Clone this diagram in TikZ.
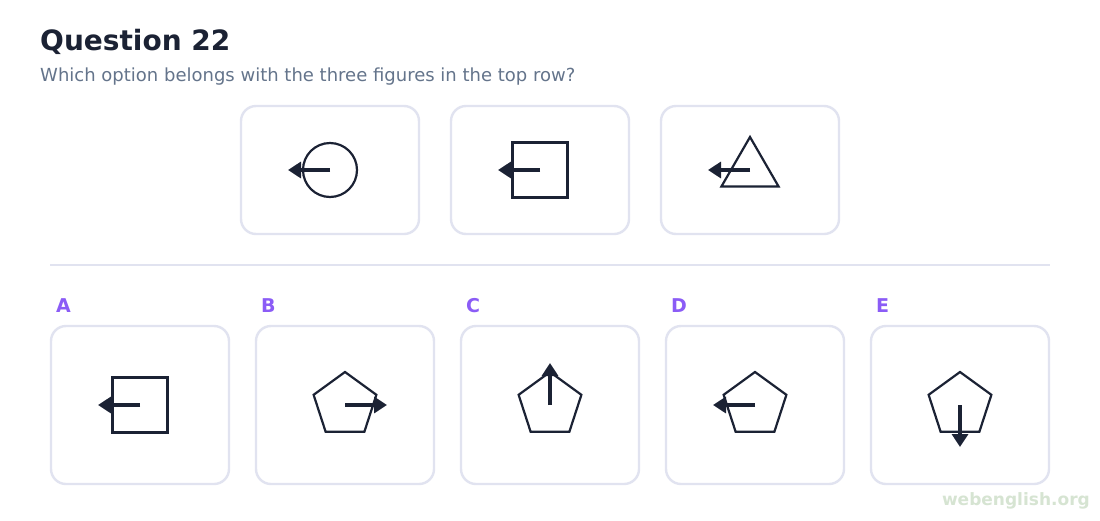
\documentclass[tikz,border=0pt]{standalone}
\usepackage{fontspec}
\setmainfont{DejaVu Sans}
\usetikzlibrary{arrows.meta,shapes.geometric,positioning}
\definecolor{ink}{HTML}{1B2234}
\definecolor{frame}{HTML}{E1E3F0}
\definecolor{optlabel}{HTML}{8B5CF6}
\definecolor{subgrey}{HTML}{64748B}
\definecolor{wmark}{HTML}{D6E4D2}
\tikzset{
  card/.style     = {draw=frame, line width=2.4pt, rounded corners=15pt,
                     minimum width=178pt, minimum height=128pt, inner sep=0pt},
  optcard/.style  = {card, minimum height=158pt},
  figline/.style  = {draw=ink, line width=2.2pt, inner sep=0pt, outer sep=0pt},
  ring/.style     = {figline, circle, minimum size=54pt},
  quad/.style     = {figline, rectangle, minimum size=55pt},
  trio/.style     = {figline, regular polygon, regular polygon sides=3, minimum size=66pt},
  penta/.style    = {figline, regular polygon, regular polygon sides=5, minimum size=66pt},
  pointer/.style  = {draw=ink, line width=4pt, -{Triangle[length=13pt,width=16pt]}},
  letter/.style   = {font=\fontsize{19}{22}\selectfont\bfseries, text=optlabel,
                     anchor=base west, inner sep=0pt},
}

\begin{document}
\begin{tikzpicture}[x=1pt, y=-1pt]
    \useasboundingbox[fill=white] (0,0) rectangle (1100,520);

    % heading
    \node [anchor=base west, inner sep=0pt, text=ink,
           font=\fontsize{28}{33}\selectfont\bfseries] (title) at (40,50) {Question 22};
    \node [anchor=base west, inner sep=0pt, text=subgrey,
           font=\fontsize{18}{21}\selectfont] (prompt) at (40,81)
          {Which option belongs with the three figures in the top row?};

    % top row
    \node [card] (top1) at (330,170) {};
    \node [card] (top2) at (540,170) {};
    \node [card] (top3) at (750,170) {};

    \node [ring] (fig1) at (top1.center) {};
    \coordinate [left=42pt of fig1.center] (tip1);
    \draw [pointer] (fig1.center) -- (tip1);

    \node [quad] (fig2) at (top2.center) {};
    \coordinate [left=42pt of fig2.center] (tip2);
    \draw [pointer] (fig2.center) -- (tip2);

    \node [trio] (fig3) at (top3.center) {};
    \coordinate [left=42pt of fig3.center] (tip3);
    \draw [pointer] (fig3.center) -- (tip3);

    % divider
    \coordinate (rule-l) at (50,265);
    \coordinate (rule-r) at (1050,265);
    \draw [frame, line width=2.4pt] (rule-l) -- (rule-r);

    % options
    \node [optcard] (optA) at (140,405) {};
    \node [optcard] (optB) at (345,405) {};
    \node [optcard] (optC) at (550,405) {};
    \node [optcard] (optD) at (755,405) {};
    \node [optcard] (optE) at (960,405) {};

    \node [letter] (labA) at (56,312)  {A};
    \node [letter] (labB) at (261,312) {B};
    \node [letter] (labC) at (466,312) {C};
    \node [letter] (labD) at (671,312) {D};
    \node [letter] (labE) at (876,312) {E};

    \node [quad] (figA) at (optA.center) {};
    \coordinate [left=42pt of figA.center] (tipA);
    \draw [pointer] (figA.center) -- (tipA);

    \node [penta] (figB) at (optB.center) {};
    \coordinate [right=42pt of figB.center] (tipB);
    \draw [pointer] (figB.center) -- (tipB);

    \node [penta] (figC) at (optC.center) {};
    \coordinate [above=42pt of figC.center] (tipC);
    \draw [pointer] (figC.center) -- (tipC);

    \node [penta] (figD) at (optD.center) {};
    \coordinate [left=42pt of figD.center] (tipD);
    \draw [pointer] (figD.center) -- (tipD);

    \node [penta] (figE) at (optE.center) {};
    \coordinate [below=42pt of figE.center] (tipE);
    \draw [pointer] (figE.center) -- (tipE);

    % watermark
    \node [anchor=base east, inner sep=0pt, text=wmark,
           font=\fontsize{17}{20}\selectfont\bfseries] (site) at (1090,505) {webenglish.org};
\end{tikzpicture}
\end{document}
